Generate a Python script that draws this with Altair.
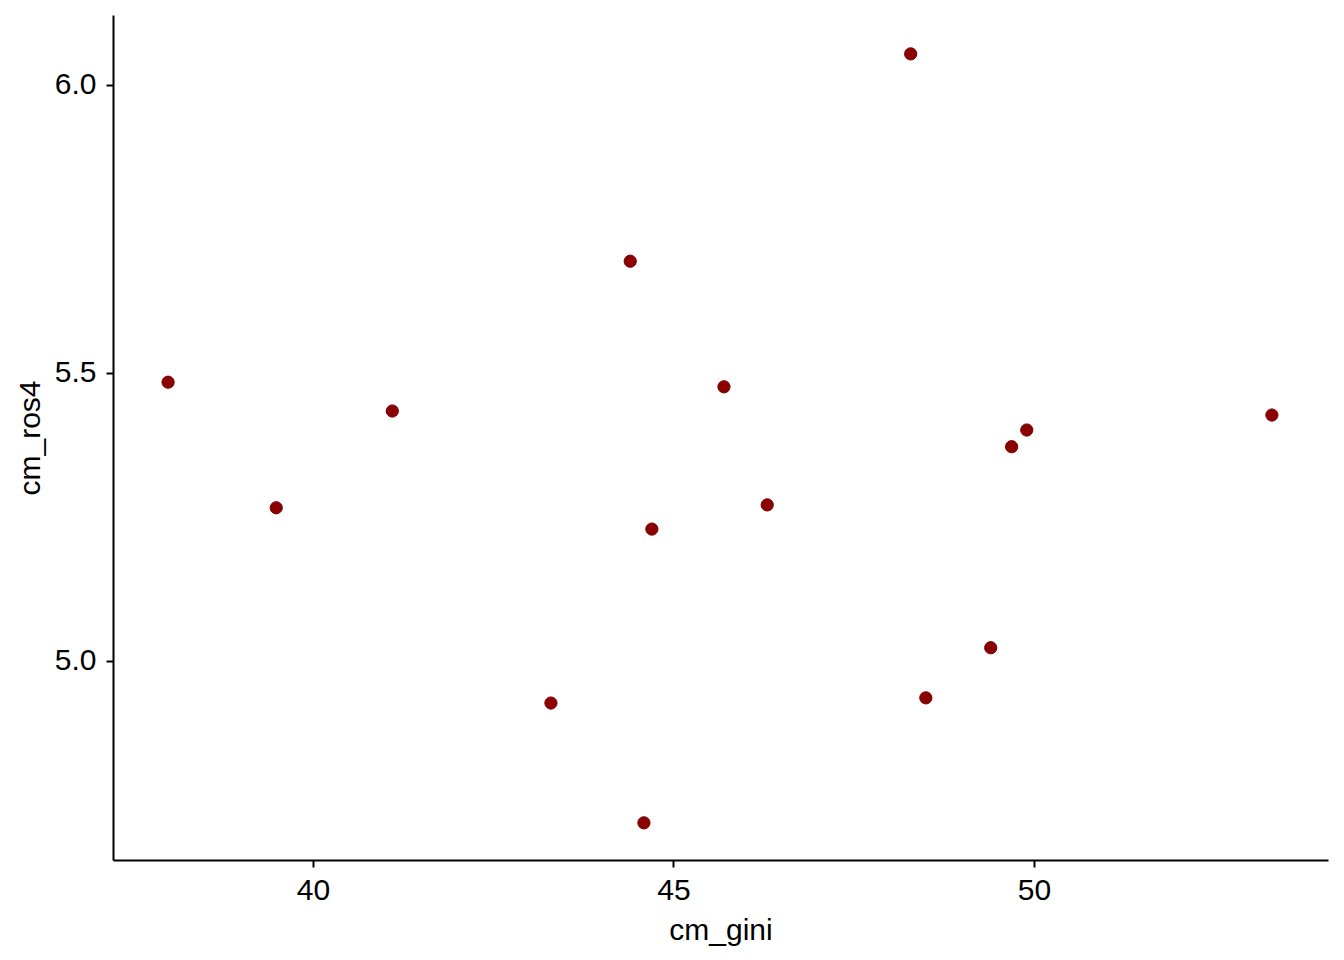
import altair as alt
import pandas as pd

cm_gini = [37.99, 39.49, 41.10, 43.30, 44.40, 44.59, 44.70, 45.70, 46.30, 48.29, 48.50, 49.40, 49.69, 49.90, 53.30]
cm_ros4 = [5.484, 5.266, 5.434, 4.927, 5.694, 4.719, 5.229, 5.476, 5.271, 6.054, 4.936, 5.023, 5.372, 5.401, 5.427]

df = pd.DataFrame({"cm_gini": cm_gini, "cm_ros4": cm_ros4})

FONT = "Liberation Sans"
axis_style = dict(
    grid=False, domainColor="black", domainWidth=2, tickColor="black", tickWidth=2, tickSize=7,
    labelFont=FONT, labelFontSize=30, labelColor="black",
    titleFont=FONT, titleFontSize=30, titleFontWeight="normal", titleColor="black",
)

chart = alt.Chart(df).mark_circle(size=150, color="#8B0000", opacity=1,
                                  stroke="#7a0000", strokeWidth=1).encode(
    x=alt.X("cm_gini:Q", scale=alt.Scale(domain=[37.226, 54.078], nice=False, zero=False),
            axis=alt.Axis(values=[40, 45, 50], format="d", title="cm_gini",
                          labelPadding=8, titlePadding=10, **axis_style)),
    y=alt.Y("cm_ros4:Q", scale=alt.Scale(domain=[4.6545, 6.1215], nice=False, zero=False),
            axis=alt.Axis(values=[5.0, 5.5, 6.0], format=".1f", title="cm_ros4",
                          labelPadding=10, titlePadding=9, **axis_style)),
).properties(
    width=1215, height=845,
    autosize=alt.AutoSizeParams(type="none"),
    padding={"left": 105, "top": 7, "right": 8, "bottom": 92},
).configure_view(stroke=None)

chart.save("out.html", embed_options={"renderer": "svg", "actions": False})
